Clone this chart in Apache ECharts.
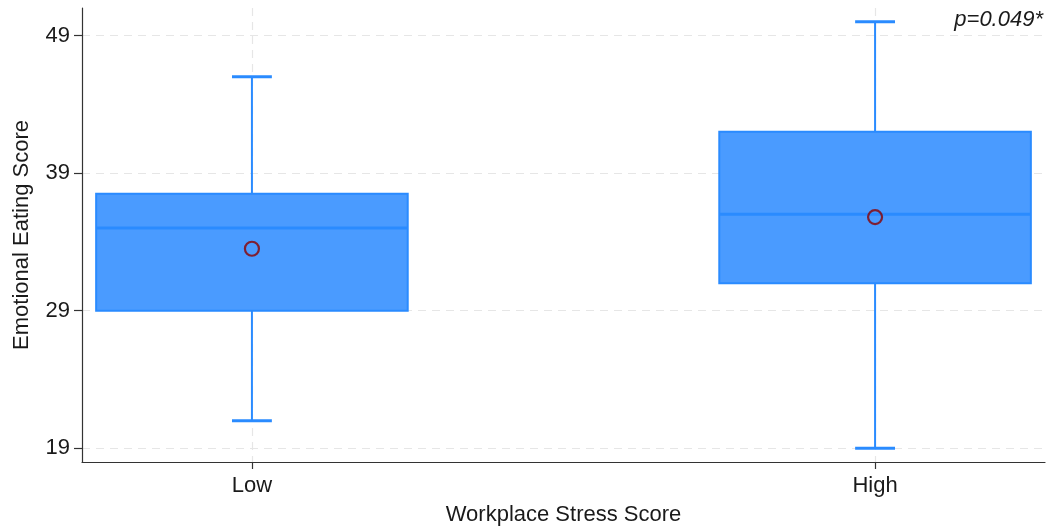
<!DOCTYPE html>
<html>
<head>
<meta charset="utf-8">
<script src="https://cdn.jsdelivr.net/npm/echarts@6/dist/echarts.min.js"></script>
<style>
  html, body { margin: 0; padding: 0; background: #fff; }
  #chart { width: 1048px; height: 527px; }
</style>
</head>
<body>
<div id="chart"></div>
<script>
// Groups and their positions on the x scale
const categories = ['Low', 'High'];
const groupPositions = [1, 2];

// Five-number summaries: [min, Q1, median, Q3, max]
const lowStats = [21, 29, 35, 37.5, 46];
const highStats = [19, 31, 36, 42, 50];

// Group means
const groupMeans = [33.5, 35.8];

// Y tick values
const yTicks = [19, 29, 39, 49];

const pText = 'p=0.049*';

const summaries = [lowStats, highStats];
const boxData = summaries.map((s, i) => [groupPositions[i]].concat(s));
const meanData = groupMeans.map((m, i) => [groupPositions[i], m]);

const BOX_HALF = 0.25;   // half box width in x units
const CAP_HALF = 0.032;  // half whisker-cap width in x units
const BLUE = '#2a8bff';
const FILL = '#4a9bff';

function renderBox(params, api) {
  const x = api.value(0);
  const vMin = api.value(1), q1 = api.value(2), med = api.value(3), q3 = api.value(4), vMax = api.value(5);
  const tl = api.coord([x - BOX_HALF, q3]);
  const br = api.coord([x + BOX_HALF, q1]);
  const cTop = api.coord([x, vMax]);
  const cBot = api.coord([x, vMin]);
  const capL = api.coord([x - CAP_HALF, vMax]);
  const capR = api.coord([x + CAP_HALF, vMax]);
  const capL2 = api.coord([x - CAP_HALF, vMin]);
  const capR2 = api.coord([x + CAP_HALF, vMin]);
  const mL = api.coord([x - BOX_HALF, med]);
  const mR = api.coord([x + BOX_HALF, med]);
  const lineStyle = { stroke: BLUE, lineWidth: 2 };
  return {
    type: 'group',
    children: [
      { type: 'line', shape: { x1: cTop[0], y1: cTop[1], x2: cTop[0], y2: tl[1] }, style: lineStyle },
      { type: 'line', shape: { x1: cBot[0], y1: br[1], x2: cBot[0], y2: cBot[1] }, style: lineStyle },
      { type: 'line', shape: { x1: capL[0], y1: capL[1], x2: capR[0], y2: capR[1] }, style: { stroke: BLUE, lineWidth: 3 } },
      { type: 'line', shape: { x1: capL2[0], y1: capL2[1], x2: capR2[0], y2: capR2[1] }, style: { stroke: BLUE, lineWidth: 3 } },
      { type: 'rect', shape: { x: tl[0], y: tl[1], width: br[0] - tl[0], height: br[1] - tl[1] },
        style: { fill: FILL, stroke: BLUE, lineWidth: 2 } },
      { type: 'line', shape: { x1: mL[0], y1: mL[1], x2: mR[0], y2: mR[1] }, style: { stroke: BLUE, lineWidth: 3 } }
    ]
  };
}

const chart = echarts.init(document.getElementById('chart'), null, { renderer: 'canvas' });
const FONT = '"Liberation Sans", Arial, Helvetica, sans-serif';

chart.setOption({
  animation: false,
  backgroundColor: '#ffffff',
  textStyle: { fontFamily: FONT },
  grid: { left: 82, right: 3, top: 8, bottom: 65, containLabel: false, outerBoundsMode: 'none' },
  xAxis: {
    type: 'value',
    min: 0.7273,
    max: 2.2727,
    name: 'Workplace Stress Score',
    nameLocation: 'middle',
    nameGap: 42,
    nameTextStyle: { fontSize: 22, color: '#1a1a1a', fontFamily: FONT },
    axisLine: { show: true, onZero: false, lineStyle: { color: '#333', width: 1.2 } },
    axisTick: { show: true, customValues: groupPositions, length: 7, lineStyle: { color: '#333', width: 1.2 } },
    axisLabel: {
      customValues: groupPositions,
      formatter: v => categories[groupPositions.indexOf(Math.round(v))] || '',
      fontSize: 22, color: '#1a1a1a', margin: 13, fontFamily: FONT
    },
    splitLine: { show: true, lineStyle: { color: '#e6e6e6', type: [8, 6], width: 1.2 } }
  },
  yAxis: {
    type: 'value',
    min: 18,
    max: 51,
    name: 'Emotional Eating Score',
    nameLocation: 'middle',
    nameGap: 49,
    nameRotate: 90,
    nameTextStyle: { fontSize: 22, color: '#1a1a1a', fontFamily: FONT },
    axisLine: { show: true, lineStyle: { color: '#333', width: 1.2 } },
    axisTick: { show: true, customValues: yTicks, length: 8, lineStyle: { color: '#333', width: 1.2 } },
    axisLabel: { customValues: yTicks, fontSize: 22, color: '#1a1a1a', margin: 12, fontFamily: FONT },
    splitLine: { show: true, lineStyle: { color: '#e6e6e6', type: [8, 6], width: 1.2 } }
  },
  graphic: [{
    type: 'text',
    right: 5,
    top: 9,
    style: { text: pText, fill: '#1a1a1a', font: 'italic 22px ' + FONT }
  }],
  series: [
    {
      type: 'custom',
      renderItem: renderBox,
      data: boxData,
      encode: { x: 0, y: [1, 2, 3, 4, 5] },
      z: 2
    },
    {
      type: 'scatter',
      data: meanData,
      symbol: 'circle',
      symbolSize: 14,
      itemStyle: { color: 'rgba(0,0,0,0)', borderColor: '#8b0000', borderWidth: 2.2 },
      z: 3
    }
  ]
});
</script>
</body>
</html>
